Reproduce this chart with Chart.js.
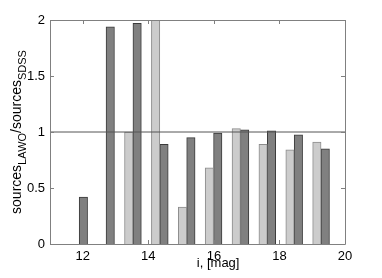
<!DOCTYPE html>
<html><head><meta charset="utf-8">
<script src="https://cdn.jsdelivr.net/npm/chart.js@4"></script>
<style>html,body{margin:0;padding:0;background:#fff}#w{width:382px;height:278px}</style>
</head><body><div id="w"><canvas id="c"></canvas></div>
<script>
// bin centres of the histogram groups (i magnitude)
const binCenters = [11.89, 12.71, 13.53, 14.35, 15.17, 15.99, 16.81, 17.63, 18.45, 19.27];
// light grey series
const ratioLight = [null, null, 1.00, 2.00, 0.33, 0.68, 1.03, 0.89, 0.84, 0.91];
// dark grey series
const ratioDark = [0.42, 1.94, 1.97, 0.89, 0.95, 0.99, 1.02, 1.01, 0.975, 0.85];
const xTicks = [12, 14, 16, 18, 20];
const yTicks = [0, 0.5, 1, 1.5, 2];
const xRange = [11, 20];
const yRange = [0, 2];
const refLevel = 1;

const FONT = "'Liberation Sans', Arial, Helvetica, sans-serif";

const framePlugin = {
  id: 'frame',
  afterDatasetsDraw(chart) {
    const {ctx, chartArea: a, scales} = chart;
    ctx.save();
    ctx.strokeStyle = '#808080';
    ctx.lineWidth = 1;
    ctx.beginPath();
    ctx.rect(Math.round(a.left) + 0.5, Math.round(a.top) + 0.5, Math.round(a.right - a.left), Math.round(a.bottom - a.top));
    ctx.stroke();
    const tl = 4;
    ctx.beginPath();
    xTicks.forEach(v => {
      const px = Math.round(scales.x.getPixelForValue(v)) + 0.5;
      ctx.moveTo(px, a.bottom); ctx.lineTo(px, a.bottom - tl);
      ctx.moveTo(px, a.top); ctx.lineTo(px, a.top + tl);
    });
    yTicks.forEach(v => {
      const py = Math.round(scales.y.getPixelForValue(v)) + 0.5;
      ctx.moveTo(a.left, py); ctx.lineTo(a.left + tl, py);
      ctx.moveTo(a.right, py); ctx.lineTo(a.right - tl, py);
    });
    ctx.stroke();
    ctx.restore();
  },
  afterDraw(chart) {
    const {ctx, chartArea: a} = chart;
    ctx.save();
    ctx.fillStyle = '#000';
    // x title
    ctx.font = '13px ' + FONT;
    ctx.textAlign = 'center';
    ctx.textBaseline = 'alphabetic';
    ctx.fillText('i, [mag]', a.left + (a.right - a.left) * 0.57, a.bottom + 23);
    // y title with subscripts
    const parts = [['sources', 0], ['LAWO', 1], ['/sources', 0], ['SDSS', 1]];
    const mainF = '14px ' + FONT, subF = '11px ' + FONT;
    let total = 0;
    parts.forEach(p => { ctx.font = p[1] ? subF : mainF; total += ctx.measureText(p[0]).width; });
    ctx.translate(a.left - 29, (a.top + a.bottom) / 2);
    ctx.rotate(-Math.PI / 2);
    ctx.textAlign = 'left';
    let x = -total / 2;
    parts.forEach(p => {
      ctx.font = p[1] ? subF : mainF;
      ctx.fillText(p[0], x, p[1] ? 5 : 0);
      x += ctx.measureText(p[0]).width;
    });
    ctx.restore();
  }
};

new Chart(document.getElementById('c'), {
  type: 'bar',
  data: {
    datasets: [
      {
        type: 'line',
        data: xRange.map(v => ({x: v, y: refLevel})),
        borderColor: '#555',
        borderWidth: 1,
        pointRadius: 0,
        order: 0
      },
      {
        data: binCenters.map((c, i) => ({x: c, y: ratioLight[i]})),
        backgroundColor: '#cccccc',
        borderColor: '#8c8c8c',
        borderWidth: 1,
        barThickness: 8.4,
        order: 1
      },
      {
        data: binCenters.map((c, i) => ({x: c, y: ratioDark[i]})),
        backgroundColor: '#808080',
        borderColor: '#3a3a3a',
        borderWidth: 1,
        barThickness: 8.4,
        order: 1
      }
    ]
  },
  options: {
    responsive: true,
    maintainAspectRatio: false,
    animation: false,
    layout: {padding: {left: 0, top: 20, right: 37, bottom: 0}},
    plugins: {legend: {display: false}, tooltip: {enabled: false}},
    scales: {
      x: {
        type: 'linear',
        min: xRange[0], max: xRange[1],
        offset: false,
        grid: {display: false, drawTicks: false},
        border: {display: false},
        afterBuildTicks: s => { s.ticks = xTicks.map(v => ({value: v})); },
        afterFit: s => { s.height = 34; },
        ticks: {color: '#000', font: {family: FONT, size: 13}, padding: 5, maxRotation: 0, callback: v => String(v)}
      },
      y: {
        min: yRange[0], max: yRange[1],
        grid: {display: false, drawTicks: false},
        border: {display: false},
        afterBuildTicks: s => { s.ticks = yTicks.map(v => ({value: v})); },
        afterFit: s => { s.width = 50; },
        ticks: {color: '#000', font: {family: FONT, size: 13}, padding: 5, callback: v => String(v)}
      }
    }
  },
  plugins: [framePlugin]
});
</script>
</body></html>
